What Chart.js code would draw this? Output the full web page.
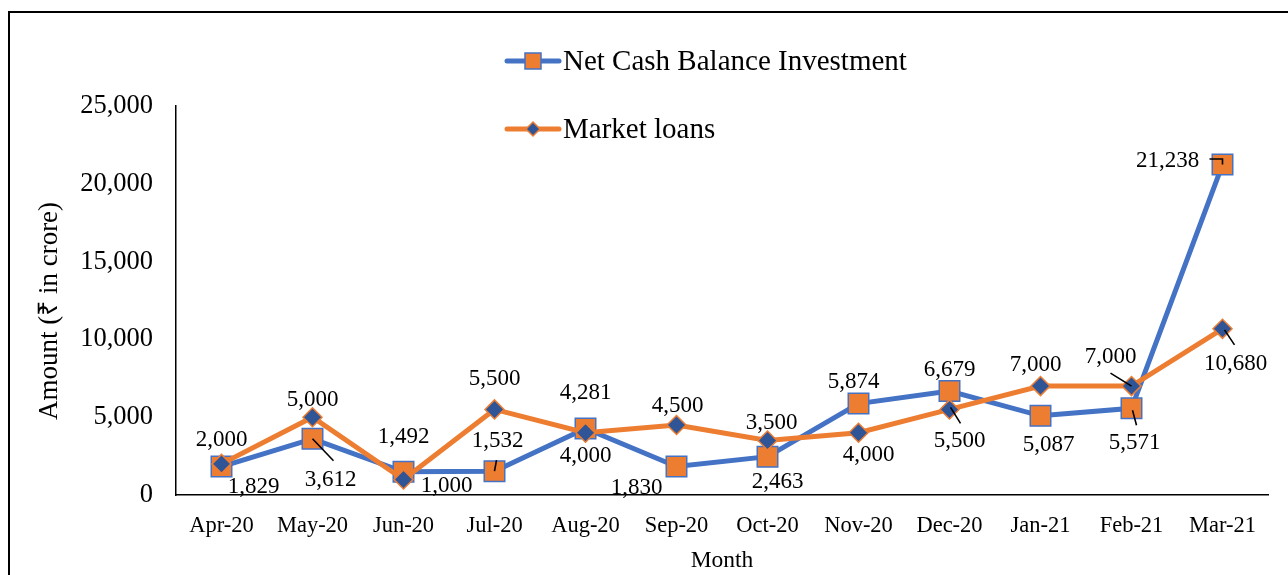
<!DOCTYPE html>
<html>
<head>
<meta charset="utf-8">
<title>Net Cash Balance Investment vs Market loans</title>
<script src="https://cdn.jsdelivr.net/npm/chart.js"></script>
<style>
  html, body { margin: 0; padding: 0; background: #fff; }
  #wrap { width: 1288px; height: 575px; position: relative; }
</style>
</head>
<body>
<div id="wrap"><canvas id="lineChart" width="1288" height="575"></canvas></div>
<script>
// data
const months = ['Apr-20', 'May-20', 'Jun-20', 'Jul-20', 'Aug-20', 'Sep-20', 'Oct-20', 'Nov-20', 'Dec-20', 'Jan-21', 'Feb-21', 'Mar-21'];
const netCashBalance = [1829, 3612, 1492, 1532, 4281, 1830, 2463, 5874, 6679, 5087, 5571, 21238];
const marketLoans = [2000, 5000, 1000, 5500, 4000, 4500, 3500, 4000, 5500, 7000, 7000, 10680];
const yTicks = [0, 5000, 10000, 15000, 20000, 25000];

const BLUE = '#4472C4';
const ORANGE = '#ED7D31';
const NAVY = '#2F5597';
const SERIF = "'Liberation Serif', 'Times New Roman', serif";

// where each data label sits relative to its point (px)
const labelPos = {
    0: [[32, 20], [18, 41], [0, -35], [3, -30], [0, -35], [-40, 21], [10, 25], [-5, -22], [0, -21], [8, 29], [3, 35], [-55, -4]],
    1: [[0, -24], [0, -17], [43, 7], [0, -30], [0, 23], [1, -19], [4, -18], [10, 22], [10, 32], [-5, -21], [-21, -29], [13, 35]]
};
// leader lines, as polylines relative to the point: "series:index"
const leaders = {
    '0:1': [[0, 0], [21, 22]],
    '0:3': [[0, 0], [2, -11]],
    '0:10': [[1, 2], [5, 17]],
    '0:11': [[-13, -5.5], [0, -5.5], [0, 0]],
    '1:8': [[1, -2], [11, 14]],
    '1:10': [[0, 0], [-21, -13]],
    '1:11': [[2, 1], [12, 16]]
};

const fmt = v => v.toLocaleString('en-US');

const dataLabels = {
    id: 'dataLabels',
    afterDatasetsDraw(chart) {
        const ctx = chart.ctx;
        ctx.save();
        ctx.font = '23px ' + SERIF;
        ctx.fillStyle = '#000';
        ctx.textAlign = 'center';
        ctx.textBaseline = 'middle';
        chart.data.datasets.forEach((ds, i) => {
            const meta = chart.getDatasetMeta(i);
            meta.data.forEach((pt, j) => {
                const p = labelPos[i][j];
                const lead = leaders[i + ':' + j];
                if (lead) {
                    ctx.beginPath();
                    ctx.strokeStyle = '#000';
                    ctx.lineWidth = 1.6;
                    lead.forEach((q, n) => {
                        if (n === 0) ctx.moveTo(pt.x + q[0], pt.y + q[1]);
                        else ctx.lineTo(pt.x + q[0], pt.y + q[1]);
                    });
                    ctx.stroke();
                }
                ctx.fillText(fmt(ds.data[j]), pt.x + p[0], pt.y + p[1]);
            });
        });
        ctx.restore();
    }
};

const legendAndFrame = {
    id: 'legendAndFrame',
    afterDraw(chart) {
        const ctx = chart.ctx;
        ctx.save();
        // outer frame (left and top edges visible)
        ctx.strokeStyle = '#000';
        ctx.lineWidth = 2;
        ctx.beginPath();
        ctx.moveTo(9, 575);
        ctx.lineTo(9, 12);
        ctx.lineTo(1288, 12);
        ctx.stroke();

        // y axis title
        ctx.save();
        ctx.translate(50, 311);
        ctx.rotate(-Math.PI / 2);
        ctx.font = '27px ' + SERIF;
        ctx.fillStyle = '#000';
        ctx.textAlign = 'center';
        ctx.textBaseline = 'middle';
        ctx.fillText('Amount (₹ in crore)', 0, 0);
        ctx.restore();

        // legend
        const items = [
            {y: 61, text: 'Net Cash Balance Investment', line: BLUE, style: 'rect', fill: ORANGE, border: BLUE},
            {y: 129, text: 'Market loans', line: ORANGE, style: 'diamond', fill: NAVY, border: ORANGE}
        ];
        items.forEach(it => {
            ctx.beginPath();
            ctx.lineCap = 'round';
            ctx.lineWidth = 5;
            ctx.strokeStyle = it.line;
            ctx.moveTo(507, it.y);
            ctx.lineTo(559, it.y);
            ctx.stroke();
            ctx.beginPath();
            if (it.style === 'rect') {
                ctx.rect(533 - 8, it.y - 8, 16, 16);
            } else {
                ctx.moveTo(533, it.y - 7);
                ctx.lineTo(540, it.y);
                ctx.lineTo(533, it.y + 7);
                ctx.lineTo(526, it.y);
                ctx.closePath();
            }
            ctx.fillStyle = it.fill;
            ctx.fill();
            ctx.lineWidth = 1.5;
            ctx.strokeStyle = it.border;
            ctx.stroke();
            ctx.fillStyle = '#000';
            ctx.font = '29px ' + SERIF;
            ctx.textAlign = 'left';
            ctx.textBaseline = 'middle';
            ctx.fillText(it.text, 563, it.y + 1);
        });
        ctx.restore();
    }
};

var ctx = document.getElementById('lineChart').getContext('2d');
var myChart = new Chart(ctx, {
    type: 'line',
    data: {
        labels: months,
        datasets: [{
            label: 'Net Cash Balance Investment',
            data: netCashBalance,
            borderColor: BLUE,
            borderWidth: 5,
            backgroundColor: ORANGE,
            pointStyle: 'rect',
            pointRadius: 14.5,
            pointBackgroundColor: ORANGE,
            pointBorderColor: BLUE,
            pointBorderWidth: 1.5,
            tension: 0,
            order: 2
        }, {
            label: 'Market loans',
            data: marketLoans,
            borderColor: ORANGE,
            borderWidth: 5,
            backgroundColor: NAVY,
            pointStyle: 'rectRot',
            pointRadius: 9.5,
            pointBackgroundColor: NAVY,
            pointBorderColor: ORANGE,
            pointBorderWidth: 1.5,
            tension: 0,
            order: 1
        }]
    },
    options: {
        responsive: false,
        animation: false,
        layout: {padding: {left: 10, right: 20, top: 106, bottom: 0}},
        plugins: {
            legend: {display: false},
            tooltip: {enabled: false}
        },
        scales: {
            x: {
                offset: true,
                grid: {display: false, drawTicks: false},
                border: {display: true, color: '#000', width: 1.5},
                ticks: {color: '#000', font: {family: SERIF, size: 22.5}, padding: 18, maxRotation: 0, autoSkip: false},
                title: {display: true, text: 'Month', color: '#000', font: {family: SERIF, size: 23.5}, padding: {top: 0, bottom: 0}},
                afterFit: s => { s.height = 80; }
            },
            y: {
                min: 0,
                max: 25000,
                afterBuildTicks: s => { s.ticks = yTicks.map(v => ({value: v})); },
                grid: {display: false, drawTicks: false},
                border: {display: true, color: '#000', width: 1.5},
                ticks: {color: '#000', font: {family: SERIF, size: 26.5}, padding: 23, callback: v => fmt(v)},
                title: {display: false},
                afterFit: s => { s.width = 166; }
            }
        }
    },
    plugins: [dataLabels, legendAndFrame]
});
</script>
</body>
</html>
